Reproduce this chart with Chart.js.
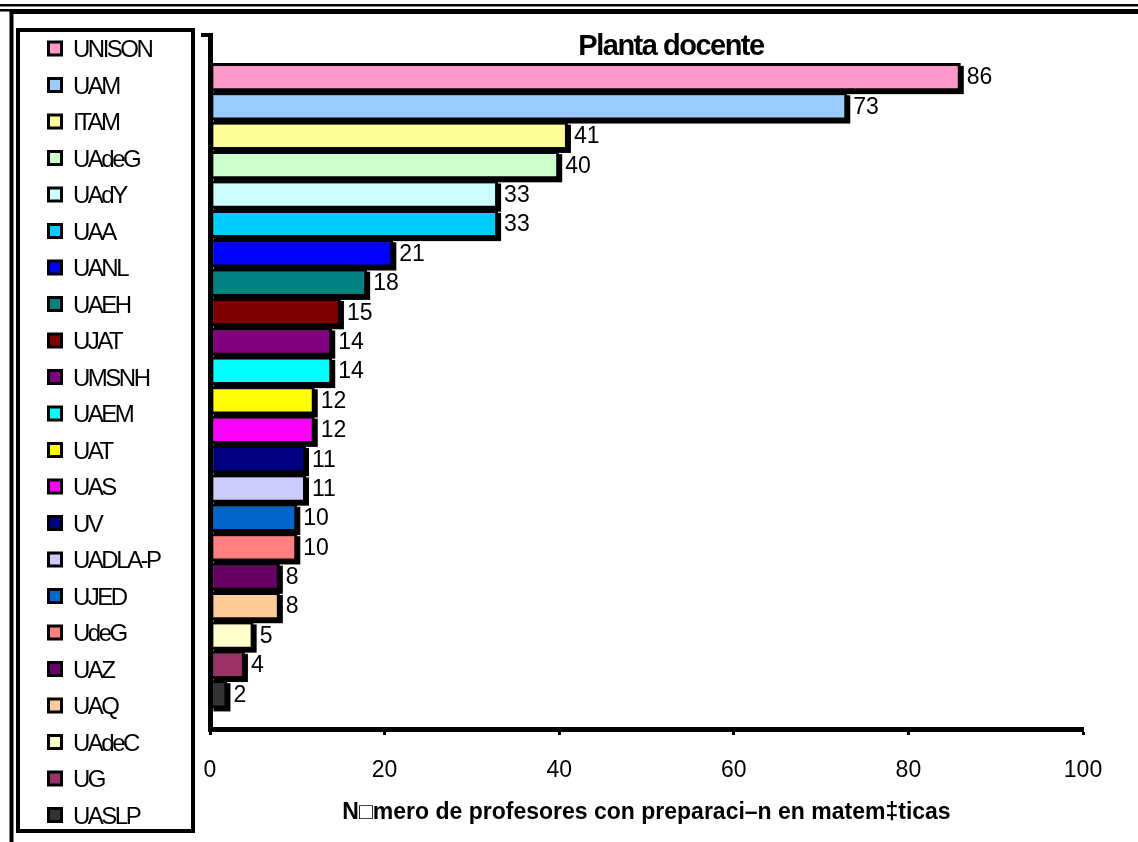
<!DOCTYPE html>
<html>
<head>
<meta charset="utf-8">
<script src="https://cdn.jsdelivr.net/npm/chart.js@4/dist/chart.umd.min.js"></script>
<style>
  html, body { margin: 0; padding: 0; background: #fff; }
  #wrap { width: 1138px; height: 842px; }
</style>
</head>
<body>
<div id="wrap"><canvas id="chart" width="1138" height="842"></canvas></div>
<script>
// universities, top to bottom
var universities = ['UNISON', 'UAM', 'ITAM', 'UAdeG', 'UAdY', 'UAA', 'UANL', 'UAEH', 'UJAT', 'UMSNH',
	'UAEM', 'UAT', 'UAS', 'UV', 'UADLA-P', 'UJED', 'UdeG', 'UAZ', 'UAQ', 'UAdeC', 'UG', 'UASLP'];
var profesores = [86, 73, 41, 40, 33, 33, 21, 18, 15, 14, 14, 12, 12, 11, 11, 10, 10, 8, 8, 5, 4, 2];
var barColors = ['#FF99CC', '#99CCFF', '#FFFF99', '#CCFFCC', '#CCFFFF', '#00CCFF', '#0000FF', '#008080',
	'#800000', '#800080', '#00FFFF', '#FFFF00', '#FF00FF', '#000080', '#CCCCFF', '#0066CC', '#FF8080',
	'#660066', '#FFCC99', '#FFFFCC', '#993366', '#333333'];
var xTicks = [0, 20, 40, 60, 80, 100];
var chartTitle = 'Planta docente';
var xTitle = 'N\u25A1mero de profesores con preparaci\u2013n en matem\u2021ticas';

Chart.defaults.font.family = "'Liberation Sans', Arial, sans-serif";
Chart.defaults.color = '#000';

var points = [];
for (var i = 0; i < profesores.length; i++)
{
	points.push({x: profesores[i], y: i});
}

// page frame, title and the boxed legend on the left
var framePlugin = {
	id: 'frame',
	beforeDraw: function(chart) {
		var ctx = chart.ctx;
		ctx.save();
		ctx.fillStyle = '#fff';
		ctx.fillRect(0, 0, chart.width, chart.height);
		ctx.fillStyle = '#000';
		ctx.fillRect(0, 4, chart.width, 2.5);
		ctx.fillRect(0, 9, chart.width, 2.5);
		ctx.fillRect(10, 10, chart.width - 10, 4);
		ctx.fillRect(9.5, 10, 4, chart.height - 10);
		ctx.restore();
	},
	afterDraw: function(chart) {
		var ctx = chart.ctx;
		var area = chart.chartArea;
		ctx.save();
		// small hook on top of the value axis
		ctx.strokeStyle = '#000';
		ctx.lineWidth = 4;
		ctx.beginPath();
		ctx.moveTo(area.left - 9, area.top);
		ctx.lineTo(area.left, area.top);
		ctx.stroke();

		ctx.fillStyle = '#000';
		ctx.font = "bold 29px 'Liberation Sans', Arial, sans-serif";
		ctx.letterSpacing = '-1.5px';
		ctx.textAlign = 'center';
		ctx.textBaseline = 'alphabetic';
		ctx.fillText(chartTitle, 671, 55);

		// legend
		ctx.lineWidth = 4;
		ctx.strokeRect(18, 30, 175, 801);
		ctx.font = "24px 'Liberation Sans', Arial, sans-serif";
		ctx.letterSpacing = '-2.5px';
		ctx.textAlign = 'left';
		ctx.textBaseline = 'middle';
		var labels = chart.data.labels;
		var colors = chart.data.datasets[0].backgroundColor;
		for (var i = 0; i < labels.length; i++)
		{
			var cy = 48.5 + i * 36.5;
			ctx.fillStyle = '#000';
			ctx.fillRect(47, cy - 8, 16, 16);
			ctx.fillStyle = colors[i];
			ctx.fillRect(50, cy - 5, 10, 10);
			ctx.fillStyle = '#000';
			ctx.fillText(labels[i], 73, cy + 2);
		}
		ctx.restore();
	}
};

// black drop shadow under the bars, then value labels
var barPlugin = {
	id: 'barShadow',
	beforeDatasetsDraw: function(chart) {
		var ctx = chart.ctx;
		var meta = chart.getDatasetMeta(0);
		ctx.save();
		ctx.fillStyle = '#000';
		meta.data.forEach(function(bar) {
			var p = bar.getProps(['x', 'y', 'base', 'height'], true);
			ctx.fillRect(p.base + 3, p.y - p.height / 2 + 3, p.x - p.base, p.height);
		});
		ctx.restore();
	},
	afterDatasetsDraw: function(chart) {
		var ctx = chart.ctx;
		ctx.save();
		ctx.fillStyle = '#000';
		ctx.font = "23px 'Liberation Sans', Arial, sans-serif";
		ctx.textAlign = 'left';
		ctx.textBaseline = 'middle';
		var meta = chart.getDatasetMeta(0);
		meta.data.forEach(function(bar, i) {
			ctx.fillText(String(profesores[i]), bar.x + 6, bar.y + 1);
		});
		ctx.restore();
	}
};

var chart = new Chart(document.getElementById('chart'), {
	type: 'bar',
	data: {
		labels: universities,
		datasets: [{
			data: points,
			backgroundColor: barColors,
			borderColor: '#000',
			borderWidth: 3,
			borderSkipped: false,
			barPercentage: 0.96,
			categoryPercentage: 1
		}]
	},
	plugins: [framePlugin, barPlugin],
	options: {
		indexAxis: 'y',
		responsive: false,
		animation: false,
		events: [],
		layout: {
			padding: {left: 202, right: 55, top: 35, bottom: 12}
		},
		plugins: {
			legend: {display: false},
			title: {display: false},
			tooltip: {enabled: false}
		},
		scales: {
			y: {
				type: 'linear',
				reverse: true,
				offset: false,
				min: -1.43,
				max: 22.18,
				ticks: {display: false},
				grid: {display: false, offset: false},
				border: {display: true, color: '#000', width: 5}
			},
			x: {
				type: 'linear',
				min: xTicks[0],
				max: xTicks[xTicks.length - 1],
				afterBuildTicks: function(scale) {
					scale.ticks = xTicks.map(function(v) { return {value: v}; });
				},
				afterFit: function(scale) {
					scale.height = 101;
				},
				ticks: {
					padding: 24,
					font: {size: 23, lineHeight: 1}
				},
				grid: {
					display: true,
					drawOnChartArea: false,
					drawTicks: true,
					tickLength: 6,
					tickWidth: 3,
					color: '#000'
				},
				border: {display: true, color: '#000', width: 5},
				title: {
					display: true,
					text: xTitle,
					font: {size: 23, weight: 'bold'},
					padding: {top: 0, bottom: 4}
				}
			}
		}
	}
});
</script>
</body>
</html>
